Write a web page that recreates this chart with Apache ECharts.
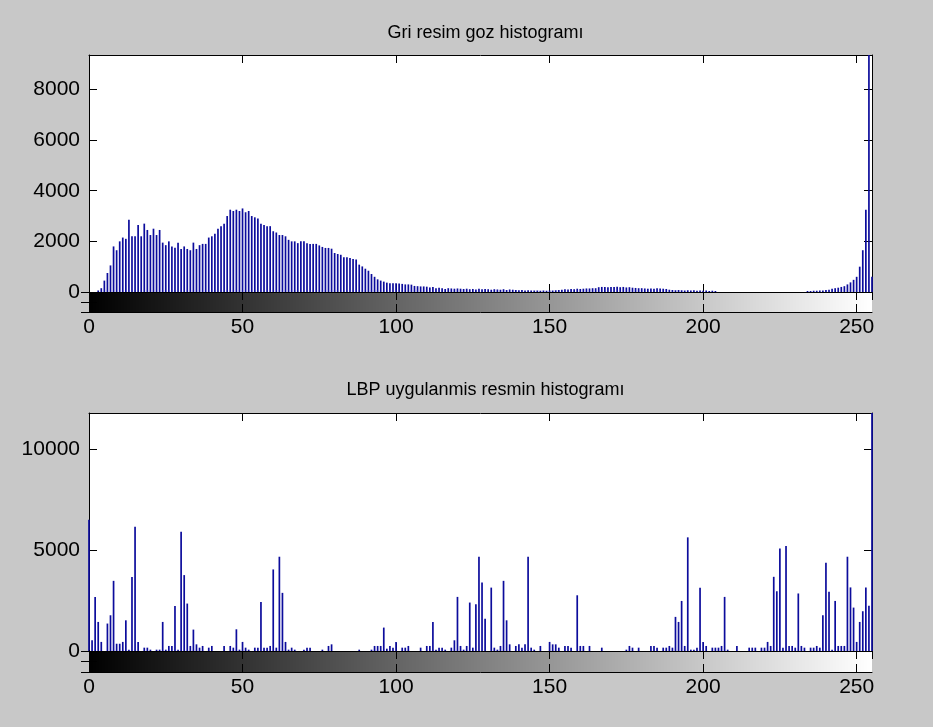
<!DOCTYPE html>
<html>
<head>
<meta charset="utf-8">
<script src="https://cdn.jsdelivr.net/npm/echarts@6/dist/echarts.min.js"></script>
<style>
  html, body { margin: 0; padding: 0; background: #c8c8c8; }
  #chart { width: 933px; height: 727px; }
</style>
</head>
<body>
<div id="chart"></div>
<script>
// Gray level bins 0..255
const bins = Array.from({ length: 256 }, (_, i) => i);

// Counts per gray level of the grayscale eye image
const grayCounts = [
  0, 0, 0, 60, 150, 450, 750, 1050, 1800, 1650,
  2000, 2150, 2100, 2850, 2200, 2200, 2650, 2200, 2700, 2450,
  2250, 2500, 2250, 2450, 1950, 1850, 2000, 1800, 1750, 1950,
  1700, 1800, 1700, 1650, 1950, 1700, 1850, 1900, 1900, 2150,
  2200, 2300, 2500, 2600, 2700, 3000, 3250, 3200, 3250, 3200,
  3300, 3150, 3200, 3000, 2950, 2900, 2700, 2650, 2600, 2600,
  2400, 2350, 2250, 2250, 2200, 2060, 2000, 2000, 1930, 2000,
  2000, 1930, 1900, 1900, 1900, 1840, 1780, 1740, 1740, 1710,
  1540, 1500, 1470, 1370, 1370, 1340, 1300, 1280, 1080, 1010,
  920, 840, 710, 600, 500, 450, 410, 370, 350, 350,
  350, 340, 320, 300, 300, 290, 240, 230, 220, 220,
  210, 180, 200, 150, 170, 150, 120, 150, 140, 130,
  140, 130, 120, 130, 110, 120, 100, 130, 110, 120,
  110, 90, 110, 100, 90, 110, 80, 100, 90, 80,
  70, 80, 60, 70, 60, 60, 60, 50, 60, 50,
  60, 60, 70, 80, 90, 110, 100, 120, 110, 130,
  120, 130, 140, 140, 150, 150, 190, 200, 200, 190,
  200, 200, 210, 190, 200, 180, 190, 170, 160, 150,
  150, 140, 130, 140, 130, 150, 140, 130, 120, 90,
  80, 70, 80, 70, 60, 70, 60, 70, 50, 60,
  50, 60, 40, 50, 40, 0, 0, 0, 0, 0,
  0, 0, 0, 0, 0, 0, 0, 0, 0, 0,
  0, 0, 0, 0, 0, 0, 0, 0, 0, 0,
  0, 0, 0, 0, 40, 40, 50, 50, 60, 60,
  80, 90, 130, 150, 170, 200, 230, 300, 380, 480,
  600, 1000, 1650, 3250, 9360, 600
];

// Counts per LBP code of the processed image
const lbpCounts = [
  6500, 530, 2680, 1440, 450, 0, 1360, 1770, 3475, 360,
  360, 450, 1520, 66, 3670, 6160, 450, 0, 165, 165,
  66, 0, 66, 66, 1440, 66, 250, 250, 2230, 66,
  5910, 3760, 2350, 250, 1060, 330, 165, 250, 0, 165,
  250, 0, 0, 0, 250, 0, 250, 165, 1075, 66,
  450, 165, 66, 0, 165, 165, 2430, 165, 165, 250,
  4040, 165, 4670, 2880, 450, 66, 165, 66, 0, 0,
  66, 165, 165, 0, 0, 0, 66, 0, 250, 330,
  0, 0, 0, 0, 0, 0, 0, 0, 66, 0,
  0, 0, 66, 250, 250, 250, 1160, 115, 250, 165,
  450, 0, 165, 165, 250, 0, 0, 0, 165, 0,
  250, 250, 1440, 66, 165, 165, 66, 0, 165, 530,
  2680, 250, 66, 250, 2400, 165, 2320, 4670, 3390, 1600,
  0, 3140, 165, 66, 250, 3475, 1520, 330, 0, 250,
  330, 165, 330, 4670, 165, 66, 0, 250, 0, 0,
  450, 330, 330, 165, 0, 250, 250, 165, 0, 2760,
  250, 250, 0, 250, 0, 0, 0, 165, 0, 0,
  0, 0, 0, 0, 0, 66, 250, 165, 0, 165,
  0, 0, 0, 250, 250, 165, 0, 165, 165, 250,
  165, 1690, 1440, 2480, 250, 5630, 66, 66, 165, 3130,
  450, 250, 0, 165, 165, 165, 250, 2680, 66, 0,
  0, 250, 0, 0, 0, 165, 165, 165, 0, 165,
  165, 450, 250, 3675, 2960, 5080, 165, 5200, 250, 250,
  165, 2850, 250, 165, 0, 165, 165, 250, 165, 1770,
  4370, 2930, 66, 2480, 250, 250, 250, 4670, 3150, 2150,
  450, 1440, 1970, 3150, 2240, 11790
];

const titles = ['Gri resim goz histogramı', 'LBP uygulanmis resmin histogramı'];
const xTicks = { min: 0, max: 255, interval: 50 };
const grayTicks = { max: 9360, interval: 2000 };
const lbpTicks = { max: 11790, interval: 5000 };

const FONT = 'Liberation Sans, Arial, sans-serif';
const AXIS_COLOR = '#000';
const BAR_COLOR = '#0c0c9c';

const chart = echarts.init(document.getElementById('chart'), null, { renderer: 'canvas' });

// Panel layout: histogram box with a colorbar strip under it
const panels = [
  { histTop: 55, histH: 237, barH: 20, titleTop: 19, counts: grayCounts, ticks: grayTicks, title: titles[0] },
  { histTop: 413, histH: 238, barH: 21, titleTop: 376, counts: lbpCounts, ticks: lbpTicks, title: titles[1] }
];
const LEFT = 89, WIDTH = 783;

const grid = [], xAxis = [], yAxis = [], series = [], title = [];

function tickStyle() {
  return { show: true, inside: true, length: 8, lineStyle: { color: AXIS_COLOR, width: 1 } };
}

panels.forEach((p) => {
  const gHist = grid.length;
  grid.push({ left: LEFT, top: p.histTop, width: WIDTH, height: p.histH,
    show: true, backgroundColor: '#fff', borderWidth: 0, containLabel: false });
  const gBar = grid.length;
  grid.push({ left: LEFT, top: p.histTop + p.histH, width: WIDTH, height: p.barH,
    show: false, containLabel: false });

  title.push({
    text: p.title, left: LEFT + WIDTH / 2, top: p.titleTop, textAlign: 'center',
    textStyle: { fontFamily: FONT, fontSize: 18, fontWeight: 'normal', color: '#000' }
  });

  const xBase = { type: 'value', min: xTicks.min, max: xTicks.max, interval: xTicks.interval,
    axisLine: { show: true, onZero: false, lineStyle: { color: AXIS_COLOR, width: 1 } },
    axisTick: tickStyle(), splitLine: { show: false }, axisLabel: { show: false } };

  // histogram box: bottom + top x axes
  const xh = xAxis.length;
  xAxis.push(Object.assign({}, xBase, { gridIndex: gHist, position: 'bottom' }));
  xAxis.push(Object.assign({}, xBase, { gridIndex: gHist, position: 'top' }));
  // colorbar strip: labelled bottom axis + top axis
  const xc = xAxis.length;
  xAxis.push(Object.assign({}, xBase, { gridIndex: gBar, position: 'bottom', z: 5,
    axisLabel: { show: true, color: '#000', fontFamily: FONT, fontSize: 21, margin: 5 } }));
  xAxis.push(Object.assign({}, xBase, { gridIndex: gBar, position: 'top', z: 5 }));

  const yBase = { type: 'value', min: 0, max: p.ticks.max, interval: p.ticks.interval,
    axisLine: { show: true, onZero: false, lineStyle: { color: AXIS_COLOR, width: 1 } },
    axisTick: tickStyle(), splitLine: { show: false }, axisLabel: { show: false } };
  const yh = yAxis.length;
  yAxis.push(Object.assign({}, yBase, { gridIndex: gHist, position: 'left',
    axisLabel: { show: true, color: '#000', fontFamily: FONT, fontSize: 21, margin: 9,
      showMaxLabel: false,
      formatter: v => (v % p.ticks.interval === 0 ? String(v) : '') } }));
  yAxis.push(Object.assign({}, yBase, { gridIndex: gHist, position: 'right' }));
  const yc = yAxis.length;
  const yStrip = { type: 'value', min: 0, max: 2, interval: 1,
    axisLine: { show: true, lineStyle: { color: AXIS_COLOR, width: 1 } },
    axisTick: tickStyle(), splitLine: { show: false }, axisLabel: { show: false }, z: 5 };
  yAxis.push(Object.assign({}, yStrip, { gridIndex: gBar, position: 'left' }));
  yAxis.push(Object.assign({}, yStrip, { gridIndex: gBar, position: 'right' }));

  // stem-style bars, one per bin
  series.push({
    type: 'bar', xAxisIndex: xh, yAxisIndex: yh,
    data: bins.map(b => [b, p.counts[b]]),
    barWidth: 1.7, itemStyle: { color: BAR_COLOR }, clip: true,
    silent: true, animation: false
  });

  // linear gray colorbar, one cell per bin
  series.push({
    type: 'custom', xAxisIndex: xc, yAxisIndex: yc, silent: true, animation: false, z: 1,
    data: bins.map(b => [b]),
    renderItem: (params, api) => {
      const v = api.value(0);
      const a = api.coord([v - 0.5, 0]);
      const c = api.coord([v + 0.5, 2]);
      const cs = params.coordSys;
      const x0 = Math.floor(Math.max(a[0], cs.x));
      const x1 = Math.ceil(Math.min(c[0], cs.x + cs.width));
      const g = Math.round(v);
      return {
        type: 'rect',
        shape: { x: x0, y: Math.round(c[1]), width: x1 - x0, height: Math.round(a[1]) - Math.round(c[1]) },
        style: { fill: 'rgb(' + g + ',' + g + ',' + g + ')', stroke: null, lineWidth: 0 }
      };
    }
  });
});

chart.setOption({
  backgroundColor: '#c8c8c8',
  animation: false,
  title, grid, xAxis, yAxis, series
});
</script>
</body>
</html>
